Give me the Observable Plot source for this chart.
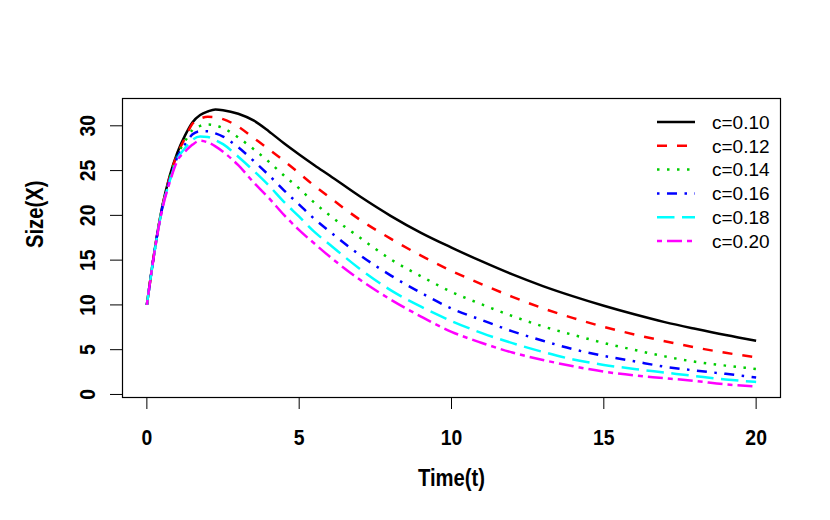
<!DOCTYPE html>
<html>
<head>
<meta charset="utf-8">
<script src="https://cdn.jsdelivr.net/npm/d3@7"></script>
<script src="https://cdn.jsdelivr.net/npm/@observablehq/plot@0.6"></script>
<style>
  html, body { margin: 0; padding: 0; background: #fff; }
  #chart { width: 830px; height: 520px; position: relative; }
</style>
</head>
<body>
<div id="chart"></div>
<script>
// Time grid (t) and the six series
const t = [0, 0.25, 0.5, 0.75, 1, 1.25, 1.5, 1.75, 2, 2.25, 2.5, 3, 3.5, 4, 4.5, 5, 5.5, 6, 7, 8, 9, 10, 11, 12, 13, 14, 15, 16, 17, 18, 19, 20];
const c010 = [10, 16.0, 20.9, 24.4, 27.0, 28.9, 30.4, 31.2, 31.6, 31.82, 31.75, 31.35, 30.6, 29.4, 28.05, 26.8, 25.6, 24.45, 22.1, 19.95, 18.05, 16.4, 14.85, 13.4, 12.1, 10.95, 9.9, 8.95, 8.08, 7.33, 6.63, 6.0];
const c012 = [10, 16.0, 20.85, 24.3, 26.85, 28.6, 30.25, 30.8, 31.0, 30.95, 30.75, 29.9, 28.65, 27.4, 26.1, 24.7, 23.3, 22.0, 19.5, 17.4, 15.5, 13.8, 12.3, 10.9, 9.62, 8.52, 7.55, 6.7, 5.95, 5.25, 4.65, 4.15];
const c014 = [10, 15.95, 20.8, 24.15, 26.7, 28.25, 29.55, 30.0, 30.15, 30.05, 29.75, 28.7, 27.4, 26.0, 24.45, 23.0, 21.4, 20.0, 17.5, 15.1, 13.2, 11.45, 10.05, 8.75, 7.6, 6.65, 5.75, 4.98, 4.25, 3.65, 3.22, 2.85];
const c016 = [10, 15.95, 20.75, 24.0, 26.5, 27.9, 29.05, 29.4, 29.4, 29.15, 28.8, 27.6, 26.1, 24.5, 22.8, 21.2, 19.6, 18.2, 15.55, 13.3, 11.35, 9.6, 8.3, 7.05, 6.0, 5.05, 4.3, 3.7, 3.1, 2.67, 2.3, 1.9];
const c018 = [10, 15.9, 20.7, 23.85, 26.3, 27.5, 28.45, 28.8, 28.75, 28.4, 27.95, 26.55, 25.0, 23.35, 21.5, 19.85, 18.15, 16.75, 14.0, 11.65, 9.8, 8.2, 6.85, 5.73, 4.75, 3.9, 3.3, 2.85, 2.45, 2.05, 1.67, 1.4];
const c020 = [10, 15.9, 20.6, 23.7, 26.1, 27.1, 27.9, 28.35, 28.15, 27.7, 27.1, 25.6, 23.7, 21.95, 20.05, 18.35, 16.85, 15.4, 12.8, 10.6, 8.7, 7.0, 5.75, 4.68, 3.85, 3.15, 2.55, 2.12, 1.82, 1.5, 1.13, 0.88];

const seriesLabels = ["c=0.10", "c=0.12", "c=0.14", "c=0.16", "c=0.18", "c=0.20"];
const xTicks = [0, 5, 10, 15, 20];
const yTicks = [0, 5, 10, 15, 20, 25, 30];
const xTitle = "Time(t)";
const yTitle = "Size(X)";

// styles (R: black, red, green3, blue, cyan, magenta; lty 1..6, lwd 2.5)
const series = [c010, c012, c014, c016, c018, c020];
const colors = ["#000000", "#FF0000", "#00CD00", "#0000FF", "#00FFFF", "#FF00FF"];
const dashes = ["none", "10,10", "2.5,7.5", "2.5,7.5,10,7.5", "17.5,7.5", "5,5,15,5"];

const boldFont = "Liberation Sans, Arial, Helvetica, sans-serif";

const lineMarks = series.map((vals, i) =>
  Plot.line(t.map((tt, j) => ({t: tt, v: vals[j]})), {
    x: "t", y: "v",
    stroke: colors[i], strokeWidth: 2.5,
    strokeDasharray: dashes[i], strokeLinecap: "butt", strokeLinejoin: "round",
    curve: "monotone-x"
  })
);

const chart = Plot.plot({
  width: 830,
  height: 520,
  marginLeft: 122,
  marginRight: 50,
  marginTop: 98,
  marginBottom: 123,
  style: {background: "#fff", overflow: "visible"},
  x: {domain: [-0.8, 20.8], label: null},
  y: {domain: [-0.34, 33.05], label: null},
  marks: [
    ...lineMarks,
    Plot.frame({stroke: "#000", strokeWidth: 1.2}),
    Plot.axisX(xTicks, {tickSize: 12, tickFormat: () => "", label: null, stroke: "#000"}),
    Plot.axisY(yTicks, {tickSize: 12, tickFormat: () => "", label: null, stroke: "#000"}),
    Plot.text(xTicks, {x: d => d, text: d => String(d), frameAnchor: "bottom", dy: 40,
      lineAnchor: "middle", textAnchor: "middle", fontSize: 22, fontWeight: "bold", fontFamily: boldFont, fill: "#000", className: "narrow"}),
    Plot.text(yTicks, {y: d => d, text: d => String(d), frameAnchor: "left", dx: -35, rotate: -90,
      lineAnchor: "middle", textAnchor: "middle", fontSize: 22, fontWeight: "bold", fontFamily: boldFont, fill: "#000", className: "narrow"}),
    Plot.text([xTitle], {text: d => d, frameAnchor: "bottom", dy: 81, lineAnchor: "middle",
      fontSize: 23, fontWeight: "bold", fontFamily: boldFont, fill: "#000", className: "narrow"}),
    Plot.text([yTitle], {text: d => d, frameAnchor: "left", dx: -87, rotate: -90, lineAnchor: "middle",
      fontSize: 23, fontWeight: "bold", fontFamily: boldFont, fill: "#000", className: "narrow"})
  ]
});

document.getElementById("chart").appendChild(chart);

// condense the bold axis texts horizontally (reference uses a narrow bold face)
d3.select(chart).selectAll("g.narrow text").each(function() {
  const len = this.getComputedTextLength();
  if (len > 0) {
    this.setAttribute("textLength", (len * 0.88).toFixed(2));
    this.setAttribute("lengthAdjust", "spacingAndGlyphs");
  }
});

// legend (no box), top-right inside the plot frame
const svg = d3.select(chart);
const lg = svg.append("g").attr("class", "legend").attr("text-anchor", "start");
seriesLabels.forEach((lab, i) => {
  const y = 122 + i * 23.8;
  lg.append("line")
    .attr("x1", 657).attr("x2", 695).attr("y1", y).attr("y2", y)
    .attr("stroke", colors[i]).attr("stroke-width", 2.5)
    .attr("stroke-dasharray", dashes[i]).attr("stroke-linecap", "butt");
  lg.append("text")
    .attr("x", 712).attr("y", y).attr("dy", "0.36em")
    .attr("text-anchor", "start")
    .attr("font-family", "Liberation Sans, Arial, sans-serif")
    .attr("font-size", 19).attr("fill", "#000")
    .text(lab);
});
</script>
</body>
</html>
